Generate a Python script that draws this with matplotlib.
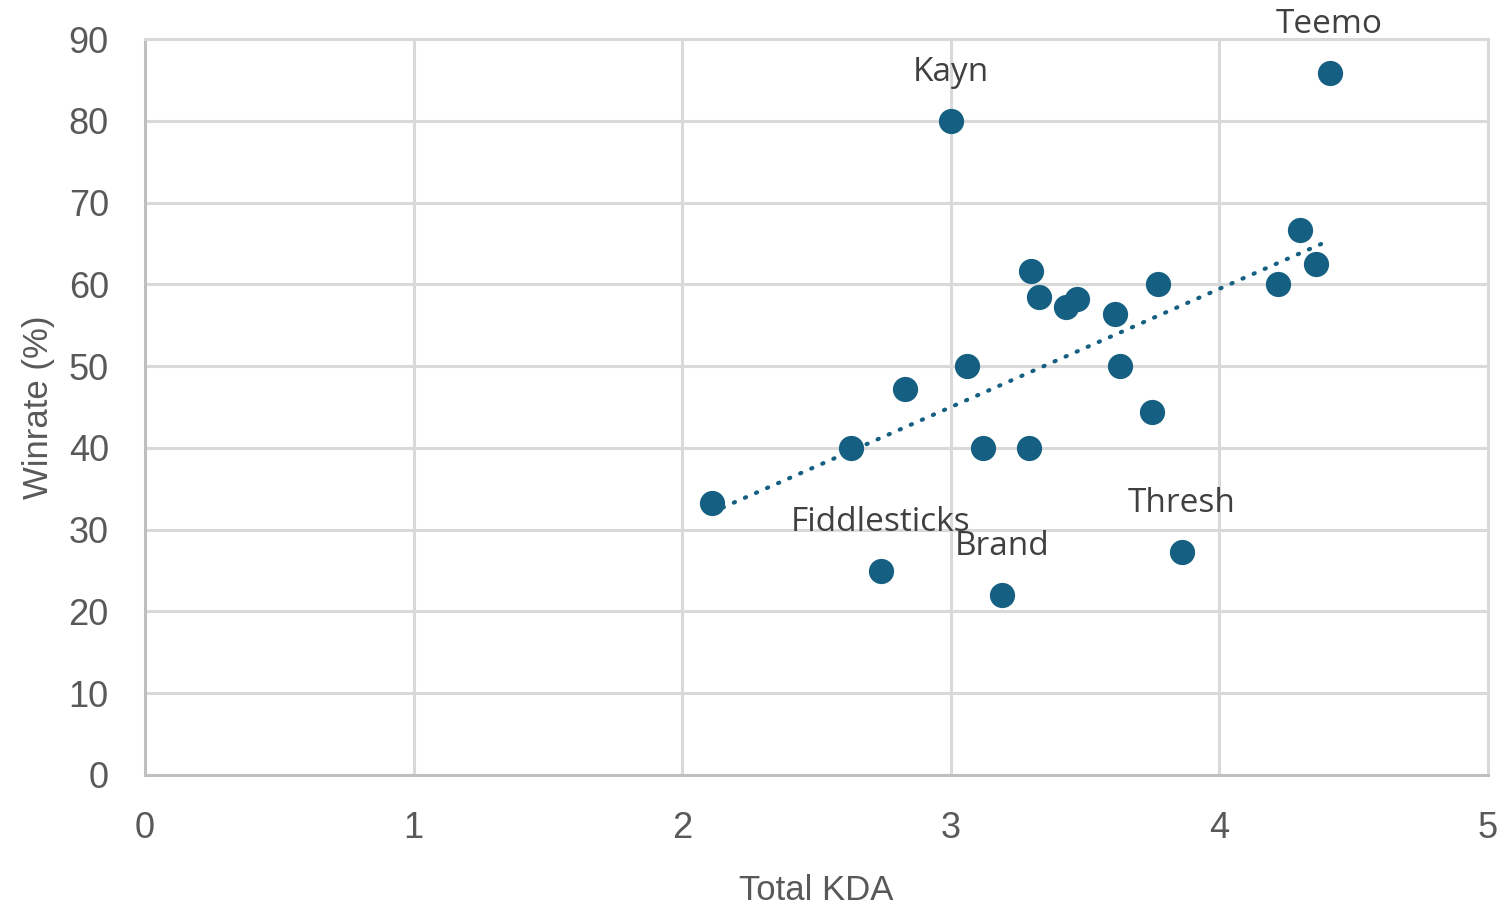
import numpy as np
import matplotlib.pyplot as plt

# champions: total KDA vs winrate
kda = [2.11, 2.63, 2.74, 2.83, 3.00, 3.06, 3.12, 3.19, 3.29, 3.30, 3.33,
       3.43, 3.47, 3.61, 3.63, 3.75, 3.77, 3.86, 4.22, 4.30, 4.36, 4.41]
winrate = [33.3, 40.0, 25.0, 47.2, 80.0, 50.0, 40.0, 22.0, 40.0, 61.6, 58.4,
           57.2, 58.2, 56.4, 50.0, 44.4, 60.0, 27.3, 60.0, 66.6, 62.5, 85.8]
labels = {2: "Fiddlesticks", 4: "Kayn", 7: "Brand", 17: "Thresh", 21: "Teemo"}

plt.rcParams['font.family'] = ['Liberation Sans', 'DejaVu Sans']
blue = '#156082'
grid = '#d9d9d9'
txt = '#595959'

fig = plt.figure(figsize=(15.05, 9.08), dpi=100)
ax = fig.add_axes([0.0963, 0.1465, 0.8924, 0.8105])

ax.scatter(kda, winrate, s=330, color=blue, zorder=3, linewidths=0)

# linear trendline
x = np.array(kda)
m, b = np.polyfit(x, winrate, 1)
xs = np.array([x.min(), x.max()])
ax.plot(xs, m * xs + b, color=blue, lw=3, linestyle=(0, (0.3, 2.6)),
        dash_capstyle='round', zorder=4)

for i, name in labels.items():
    ax.annotate(name, (kda[i], winrate[i]), xytext=(0, 23), textcoords='offset points',
                ha='center', va='bottom', fontsize=24, color='#404040', zorder=5,
                family=['Open Sans', 'DejaVu Sans'])

ax.set_xlim(0, 5)
ax.set_ylim(0, 90)
ax.set_xticks(range(0, 6))
ax.set_yticks(range(0, 91, 10))
ax.grid(True, color=grid, lw=2.2)
ax.set_axisbelow(True)
for side in ['top', 'right']:
    ax.spines[side].set_color(grid)
    ax.spines[side].set_linewidth(2.2)
for side in ['left', 'bottom']:
    ax.spines[side].set_color('#bfbfbf')
    ax.spines[side].set_linewidth(2.2)
ax.tick_params(length=0, labelsize=26, colors=txt)
ax.tick_params(axis='x', pad=26)
ax.tick_params(axis='y', pad=26)
ax.set_xlabel('Total KDA', fontsize=25, color=txt, labelpad=20)
ax.set_ylabel('Winrate (%)', fontsize=25, color=txt, labelpad=10)

fig.savefig('out.png', dpi=100)
